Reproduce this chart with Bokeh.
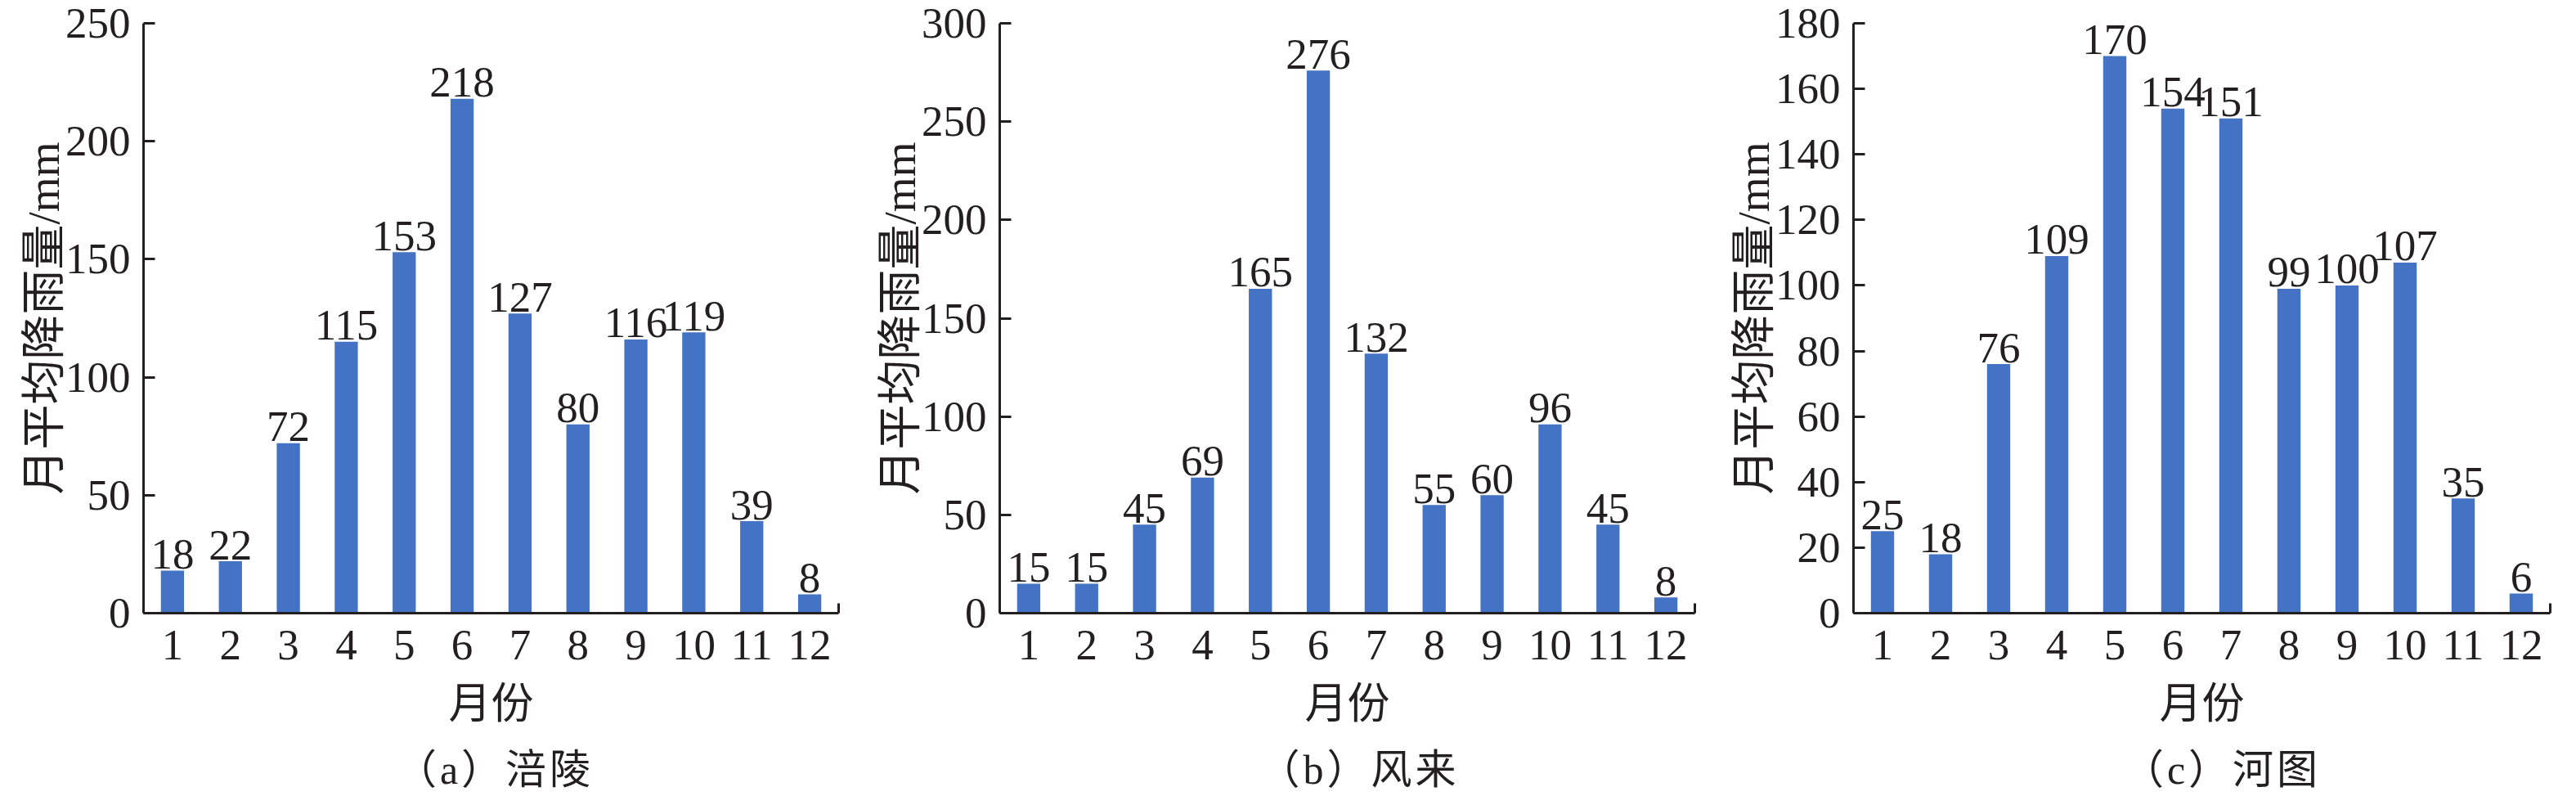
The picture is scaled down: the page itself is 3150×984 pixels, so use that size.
from bokeh.plotting import figure
from bokeh.layouts import row, column
from bokeh.models import FixedTicker, Range1d, Div, Spacer
from bokeh.core.properties import value
from bokeh.embed import file_html
from bokeh.resources import INLINE

# ---------------- data ----------------
months = [1, 2, 3, 4, 5, 6, 7, 8, 9, 10, 11, 12]
fuling = [18, 22, 72, 115, 153, 218, 127, 80, 116, 119, 39, 8]
fenglai = [15, 15, 45, 69, 165, 276, 132, 55, 60, 96, 45, 8]
hetu = [25, 18, 76, 109, 170, 154, 151, 99, 100, 107, 35, 6]
captions = ["（a）涪陵", "（b）风来", "（c）河图"]
y_ticks_a = [0, 50, 100, 150, 200, 250]
y_ticks_b = [0, 50, 100, 150, 200, 250, 300]
y_ticks_c = [0, 20, 40, 60, 80, 100, 120, 140, 160, 180]
y_label = "月平均降雨量/mm"
x_label = "月份"

# ---------------- style ----------------
BAR = "#4472C4"
INK = "#231f20"
NUM_FONT = "Liberation Serif"
MIX_FONT = "'Liberation Serif', 'Noto Sans CJK SC'"
NUM_SIZE = "53px"
H = 910        # figure height
CAP_H = 58     # caption strip height


def make_panel(values, yticks, width, left, right, top, frame_h):
    p = figure(width=width, height=H,
               x_range=Range1d(0.5, 12.5), y_range=Range1d(0, yticks[-1]),
               output_backend="svg", toolbar_location=None,
               min_border_left=left, min_border_right=right,
               min_border_top=top, min_border_bottom=H - top - frame_h)
    p.outline_line_color = None
    p.background_fill_color = "white"
    p.border_fill_color = "white"
    p.xgrid.visible = False
    p.ygrid.visible = False

    p.vbar(x=months, top=values, width=0.4, fill_color=BAR, line_color=None)
    p.text(x=months, y=values, text=[str(v) for v in values],
           y_offset=-20, text_align="center", text_baseline="alphabetic",
           text_font=value(NUM_FONT), text_font_size=NUM_SIZE, text_color=INK)

    # x axis
    xa = p.xaxis[0]
    xa.ticker = FixedTicker(ticks=months, minor_ticks=[12.5])
    xa.axis_line_color = INK
    xa.axis_line_width = 3
    xa.major_tick_line_color = None
    xa.major_tick_in = 0
    xa.major_tick_out = 0
    xa.minor_tick_line_color = INK
    xa.minor_tick_line_width = 3
    xa.minor_tick_in = 12
    xa.minor_tick_out = 0
    xa.major_label_text_font = NUM_FONT
    xa.major_label_text_font_size = NUM_SIZE
    xa.major_label_text_color = INK
    xa.major_label_standoff = 21
    xa.axis_label = x_label
    xa.axis_label_text_font = MIX_FONT
    xa.axis_label_text_font_size = "52px"
    xa.axis_label_text_font_style = "normal"
    xa.axis_label_text_color = INK
    xa.axis_label_standoff = 23

    # y axis
    ya = p.yaxis[0]
    ya.ticker = FixedTicker(ticks=yticks)
    ya.axis_line_color = INK
    ya.axis_line_width = 3
    ya.major_tick_line_color = INK
    ya.major_tick_line_width = 3
    ya.major_tick_in = 14
    ya.major_tick_out = 0
    ya.minor_tick_line_color = None
    ya.major_label_text_font = NUM_FONT
    ya.major_label_text_font_size = NUM_SIZE
    ya.major_label_text_color = INK
    ya.major_label_standoff = 16
    ya.axis_label = y_label
    ya.axis_label_text_font = MIX_FONT
    ya.axis_label_text_font_size = "55px"
    ya.axis_label_text_font_style = "normal"
    ya.axis_label_text_color = INK
    ya.axis_label_standoff = -7
    return p


def caption_div(text, w):
    return Div(text=text, width=w, height=CAP_H,
               styles={"font-family": MIX_FONT, "font-size": "50px",
                       "text-align": "center", "line-height": "52px",
                       "letter-spacing": "4px",
                       "color": INK, "white-space": "nowrap"})


# (width, left border, right border, top border, frame height) per panel
geo_a = (1037, 175, 12, 28, 723)
geo_b = (1044, 185, 9, 28, 721)
geo_c = (1053, 185, 16, 28, 725)

pa = make_panel(fuling, y_ticks_a, *geo_a)
pb = make_panel(fenglai, y_ticks_b, *geo_b)
pc = make_panel(hetu, y_ticks_c, *geo_c)

cap_items = []
for cap, g in zip(captions, [geo_a, geo_b, geo_c]):
    w, l, r = g[0], g[1], g[2]
    fw = w - l - r
    cap_items += [Spacer(width=l, height=CAP_H), caption_div(cap, fw),
                  Spacer(width=r, height=CAP_H)]

layout = column(row(pa, pb, pc), row(*cap_items))
open("out.html", "w").write(file_html(layout, INLINE))
